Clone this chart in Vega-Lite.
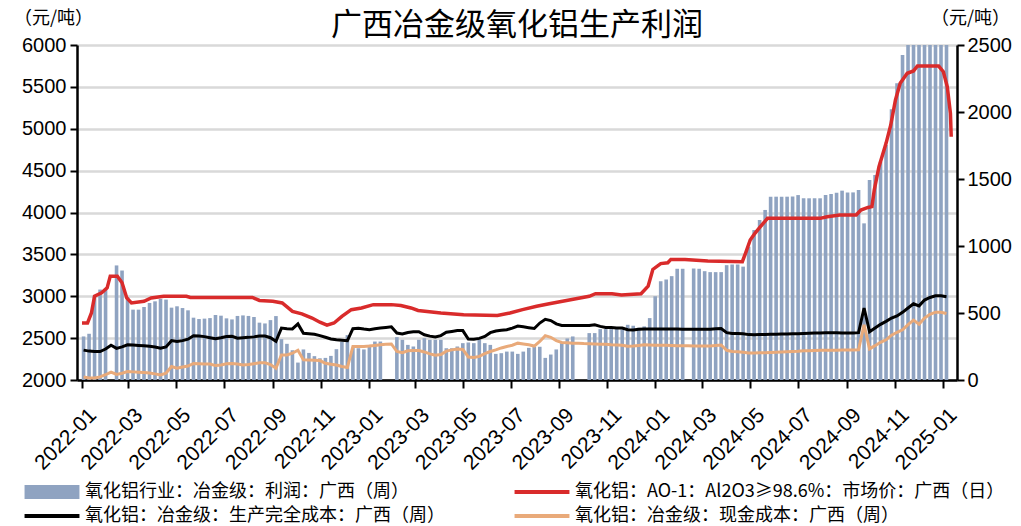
{
"$schema":"https://vega.github.io/schema/vega-lite/v6.json",
"width":880,"height":335,
"autosize":{"type":"none"},
"padding":{"left":77,"top":45,"right":64,"bottom":146},
"background":"white",
"config":{"view":{"stroke":null},"font":"Liberation Sans"},
"title":{"text":"广西冶金级氧化铝生产利润","font":"Noto Sans CJK SC","fontSize":31,"fontWeight":"normal","color":"#000","anchor":"middle","offset":-33,"frame":"group"},
"datasets":{
"profit":[
{"date":"2022-01-03","v":325},{"date":"2022-01-10","v":345},{"date":"2022-01-17","v":630},{"date":"2022-01-24","v":675},{"date":"2022-01-31","v":680},{"date":"2022-02-14","v":855},{"date":"2022-02-21","v":817},{"date":"2022-02-28","v":620},{"date":"2022-03-07","v":525},{"date":"2022-03-14","v":525},{"date":"2022-03-21","v":545},{"date":"2022-03-28","v":575},{"date":"2022-04-04","v":587},{"date":"2022-04-11","v":605},{"date":"2022-04-18","v":600},{"date":"2022-04-25","v":540},{"date":"2022-05-02","v":550},{"date":"2022-05-09","v":537},{"date":"2022-05-16","v":520},{"date":"2022-05-23","v":465},{"date":"2022-05-30","v":455},{"date":"2022-06-06","v":458},{"date":"2022-06-13","v":462},{"date":"2022-06-20","v":485},{"date":"2022-06-27","v":480},{"date":"2022-07-04","v":460},{"date":"2022-07-11","v":452},{"date":"2022-07-18","v":478},{"date":"2022-07-25","v":482},{"date":"2022-08-01","v":478},{"date":"2022-08-08","v":470},{"date":"2022-08-15","v":428},{"date":"2022-08-22","v":422},{"date":"2022-08-29","v":447},{"date":"2022-09-05","v":477},{"date":"2022-09-12","v":305},{"date":"2022-09-19","v":270},{"date":"2022-09-26","v":222},{"date":"2022-10-03","v":130},{"date":"2022-10-10","v":228},{"date":"2022-10-17","v":202},{"date":"2022-10-24","v":178},{"date":"2022-10-31","v":162},{"date":"2022-11-07","v":165},{"date":"2022-11-14","v":180},{"date":"2022-11-21","v":230},{"date":"2022-11-28","v":285},{"date":"2022-12-05","v":335},{"date":"2022-12-12","v":240},{"date":"2022-12-19","v":237},{"date":"2022-12-26","v":228},{"date":"2023-01-02","v":262},{"date":"2023-01-09","v":287},{"date":"2023-01-16","v":287},{"date":"2023-02-06","v":320},{"date":"2023-02-13","v":300},{"date":"2023-02-20","v":262},{"date":"2023-02-27","v":250},{"date":"2023-03-06","v":300},{"date":"2023-03-13","v":312},{"date":"2023-03-20","v":300},{"date":"2023-03-27","v":300},{"date":"2023-04-03","v":300},{"date":"2023-04-10","v":237},{"date":"2023-04-17","v":237},{"date":"2023-04-24","v":250},{"date":"2023-05-01","v":275},{"date":"2023-05-08","v":280},{"date":"2023-05-15","v":275},{"date":"2023-05-22","v":300},{"date":"2023-05-29","v":275},{"date":"2023-06-05","v":262},{"date":"2023-06-12","v":195},{"date":"2023-06-19","v":200},{"date":"2023-06-26","v":212},{"date":"2023-07-03","v":212},{"date":"2023-07-10","v":195},{"date":"2023-07-17","v":212},{"date":"2023-07-24","v":240},{"date":"2023-07-31","v":248},{"date":"2023-08-07","v":248},{"date":"2023-08-14","v":165},{"date":"2023-08-21","v":190},{"date":"2023-08-28","v":228},{"date":"2023-09-04","v":275},{"date":"2023-09-11","v":310},{"date":"2023-09-18","v":325},{"date":"2023-10-09","v":350},{"date":"2023-10-16","v":350},{"date":"2023-10-23","v":380},{"date":"2023-10-30","v":380},{"date":"2023-11-06","v":380},{"date":"2023-11-13","v":380},{"date":"2023-11-20","v":378},{"date":"2023-11-27","v":412},{"date":"2023-12-04","v":405},{"date":"2023-12-11","v":390},{"date":"2023-12-18","v":400},{"date":"2023-12-25","v":462},{"date":"2024-01-01","v":625},{"date":"2024-01-08","v":737},{"date":"2024-01-15","v":750},{"date":"2024-01-22","v":775},{"date":"2024-01-29","v":830},{"date":"2024-02-05","v":830},{"date":"2024-02-19","v":832},{"date":"2024-02-26","v":830},{"date":"2024-03-04","v":812},{"date":"2024-03-11","v":805},{"date":"2024-03-18","v":805},{"date":"2024-03-25","v":805},{"date":"2024-04-01","v":857},{"date":"2024-04-08","v":862},{"date":"2024-04-15","v":862},{"date":"2024-04-22","v":846},{"date":"2024-04-29","v":995},{"date":"2024-05-06","v":1119},{"date":"2024-05-13","v":1194},{"date":"2024-05-20","v":1269},{"date":"2024-05-27","v":1368},{"date":"2024-06-03","v":1368},{"date":"2024-06-10","v":1368},{"date":"2024-06-17","v":1368},{"date":"2024-06-24","v":1370},{"date":"2024-07-01","v":1380},{"date":"2024-07-08","v":1356},{"date":"2024-07-15","v":1356},{"date":"2024-07-22","v":1356},{"date":"2024-07-29","v":1356},{"date":"2024-08-05","v":1380},{"date":"2024-08-12","v":1388},{"date":"2024-08-19","v":1398},{"date":"2024-08-26","v":1413},{"date":"2024-09-02","v":1400},{"date":"2024-09-09","v":1400},{"date":"2024-09-16","v":1418},{"date":"2024-09-23","v":1169},{"date":"2024-09-30","v":1493},{"date":"2024-10-07","v":1530},{"date":"2024-10-14","v":1629},{"date":"2024-10-21","v":1754},{"date":"2024-10-28","v":2020},{"date":"2024-11-04","v":2214},{"date":"2024-11-11","v":2425},{"date":"2024-11-18","v":2650},{"date":"2024-11-25","v":2750},{"date":"2024-12-02","v":2800},{"date":"2024-12-09","v":2850},{"date":"2024-12-16","v":2850},{"date":"2024-12-23","v":2800},{"date":"2024-12-30","v":2750},{"date":"2025-01-06","v":2650}
],
"full":[
{"date":"2022-01-03","v":2357},{"date":"2022-01-10","v":2345},{"date":"2022-01-17","v":2340},{"date":"2022-01-24","v":2340},{"date":"2022-01-31","v":2370},{"date":"2022-02-07","v":2415},{"date":"2022-02-14","v":2378},{"date":"2022-02-21","v":2395},{"date":"2022-02-28","v":2420},{"date":"2022-03-07","v":2417},{"date":"2022-03-14","v":2413},{"date":"2022-03-21","v":2410},{"date":"2022-03-28","v":2402},{"date":"2022-04-04","v":2393},{"date":"2022-04-11","v":2380},{"date":"2022-04-18","v":2395},{"date":"2022-04-25","v":2470},{"date":"2022-05-02","v":2460},{"date":"2022-05-09","v":2470},{"date":"2022-05-16","v":2487},{"date":"2022-05-23","v":2528},{"date":"2022-05-30","v":2525},{"date":"2022-06-06","v":2518},{"date":"2022-06-13","v":2505},{"date":"2022-06-20","v":2492},{"date":"2022-06-27","v":2505},{"date":"2022-07-04","v":2520},{"date":"2022-07-11","v":2522},{"date":"2022-07-18","v":2500},{"date":"2022-07-25","v":2505},{"date":"2022-08-01","v":2509},{"date":"2022-08-08","v":2515},{"date":"2022-08-15","v":2525},{"date":"2022-08-22","v":2525},{"date":"2022-08-29","v":2505},{"date":"2022-09-05","v":2462},{"date":"2022-09-12","v":2620},{"date":"2022-09-19","v":2613},{"date":"2022-09-26","v":2610},{"date":"2022-10-03","v":2670},{"date":"2022-10-10","v":2558},{"date":"2022-10-17","v":2553},{"date":"2022-10-24","v":2546},{"date":"2022-10-31","v":2530},{"date":"2022-11-07","v":2510},{"date":"2022-11-14","v":2490},{"date":"2022-11-21","v":2480},{"date":"2022-11-28","v":2475},{"date":"2022-12-05","v":2470},{"date":"2022-12-12","v":2612},{"date":"2022-12-19","v":2619},{"date":"2022-12-26","v":2609},{"date":"2023-01-02","v":2601},{"date":"2023-01-09","v":2613},{"date":"2023-01-16","v":2622},{"date":"2023-01-23","v":2628},{"date":"2023-01-30","v":2635},{"date":"2023-02-06","v":2560},{"date":"2023-02-13","v":2550},{"date":"2023-02-20","v":2568},{"date":"2023-02-27","v":2575},{"date":"2023-03-06","v":2576},{"date":"2023-03-13","v":2540},{"date":"2023-03-20","v":2524},{"date":"2023-03-27","v":2513},{"date":"2023-04-03","v":2530},{"date":"2023-04-10","v":2570},{"date":"2023-04-17","v":2580},{"date":"2023-04-24","v":2590},{"date":"2023-05-01","v":2590},{"date":"2023-05-08","v":2490},{"date":"2023-05-15","v":2487},{"date":"2023-05-22","v":2497},{"date":"2023-05-29","v":2520},{"date":"2023-06-05","v":2565},{"date":"2023-06-12","v":2585},{"date":"2023-06-19","v":2594},{"date":"2023-06-26","v":2600},{"date":"2023-07-03","v":2620},{"date":"2023-07-10","v":2645},{"date":"2023-07-17","v":2635},{"date":"2023-07-24","v":2625},{"date":"2023-07-31","v":2615},{"date":"2023-08-07","v":2680},{"date":"2023-08-14","v":2725},{"date":"2023-08-21","v":2710},{"date":"2023-08-28","v":2670},{"date":"2023-09-04","v":2652},{"date":"2023-09-11","v":2650},{"date":"2023-09-18","v":2650},{"date":"2023-09-25","v":2650},{"date":"2023-10-02","v":2650},{"date":"2023-10-09","v":2650},{"date":"2023-10-16","v":2660},{"date":"2023-10-23","v":2640},{"date":"2023-10-30","v":2628},{"date":"2023-11-06","v":2626},{"date":"2023-11-13","v":2622},{"date":"2023-11-20","v":2620},{"date":"2023-11-27","v":2600},{"date":"2023-12-04","v":2598},{"date":"2023-12-11","v":2605},{"date":"2023-12-18","v":2610},{"date":"2023-12-25","v":2610},{"date":"2024-01-01","v":2610},{"date":"2024-01-08","v":2609},{"date":"2024-01-15","v":2609},{"date":"2024-01-22","v":2608},{"date":"2024-01-29","v":2608},{"date":"2024-02-05","v":2607},{"date":"2024-02-12","v":2606},{"date":"2024-02-19","v":2606},{"date":"2024-02-26","v":2605},{"date":"2024-03-04","v":2605},{"date":"2024-03-11","v":2607},{"date":"2024-03-18","v":2611},{"date":"2024-03-25","v":2615},{"date":"2024-04-01","v":2565},{"date":"2024-04-08","v":2556},{"date":"2024-04-15","v":2555},{"date":"2024-04-22","v":2553},{"date":"2024-04-29","v":2542},{"date":"2024-05-06","v":2541},{"date":"2024-05-13","v":2542},{"date":"2024-05-20","v":2544},{"date":"2024-05-27","v":2545},{"date":"2024-06-03","v":2546},{"date":"2024-06-10","v":2548},{"date":"2024-06-17","v":2550},{"date":"2024-06-24","v":2551},{"date":"2024-07-01","v":2553},{"date":"2024-07-08","v":2555},{"date":"2024-07-15","v":2557},{"date":"2024-07-22","v":2560},{"date":"2024-07-29","v":2562},{"date":"2024-08-05","v":2565},{"date":"2024-08-12","v":2565},{"date":"2024-08-19","v":2565},{"date":"2024-08-26","v":2562},{"date":"2024-09-02","v":2561},{"date":"2024-09-09","v":2560},{"date":"2024-09-16","v":2565},{"date":"2024-09-23","v":2860},{"date":"2024-09-30","v":2575},{"date":"2024-10-07","v":2620},{"date":"2024-10-14","v":2665},{"date":"2024-10-21","v":2700},{"date":"2024-10-28","v":2740},{"date":"2024-11-04","v":2765},{"date":"2024-11-11","v":2808},{"date":"2024-11-18","v":2860},{"date":"2024-11-25","v":2910},{"date":"2024-12-02","v":2885},{"date":"2024-12-09","v":2955},{"date":"2024-12-16","v":2985},{"date":"2024-12-23","v":3005},{"date":"2024-12-30","v":3005},{"date":"2025-01-06","v":2995}
],
"cash":[
{"date":"2022-01-03","v":2037},{"date":"2022-01-10","v":2025},{"date":"2022-01-17","v":2025},{"date":"2022-01-24","v":2037},{"date":"2022-01-31","v":2063},{"date":"2022-02-07","v":2095},{"date":"2022-02-14","v":2067},{"date":"2022-02-21","v":2080},{"date":"2022-02-28","v":2100},{"date":"2022-03-07","v":2097},{"date":"2022-03-14","v":2093},{"date":"2022-03-21","v":2090},{"date":"2022-03-28","v":2083},{"date":"2022-04-04","v":2073},{"date":"2022-04-11","v":2060},{"date":"2022-04-18","v":2080},{"date":"2022-04-25","v":2160},{"date":"2022-05-02","v":2140},{"date":"2022-05-09","v":2155},{"date":"2022-05-16","v":2167},{"date":"2022-05-23","v":2198},{"date":"2022-05-30","v":2195},{"date":"2022-06-06","v":2192},{"date":"2022-06-13","v":2190},{"date":"2022-06-20","v":2172},{"date":"2022-06-27","v":2180},{"date":"2022-07-04","v":2193},{"date":"2022-07-11","v":2198},{"date":"2022-07-18","v":2190},{"date":"2022-07-25","v":2180},{"date":"2022-08-01","v":2185},{"date":"2022-08-08","v":2195},{"date":"2022-08-15","v":2205},{"date":"2022-08-22","v":2205},{"date":"2022-08-29","v":2185},{"date":"2022-09-05","v":2140},{"date":"2022-09-12","v":2300},{"date":"2022-09-19","v":2300},{"date":"2022-09-26","v":2320},{"date":"2022-10-03","v":2355},{"date":"2022-10-10","v":2240},{"date":"2022-10-17","v":2238},{"date":"2022-10-24","v":2237},{"date":"2022-10-31","v":2232},{"date":"2022-11-07","v":2200},{"date":"2022-11-14","v":2189},{"date":"2022-11-21","v":2178},{"date":"2022-11-28","v":2162},{"date":"2022-12-05","v":2150},{"date":"2022-12-12","v":2400},{"date":"2022-12-19","v":2400},{"date":"2022-12-26","v":2400},{"date":"2023-01-02","v":2405},{"date":"2023-01-09","v":2413},{"date":"2023-01-16","v":2421},{"date":"2023-01-23","v":2426},{"date":"2023-01-30","v":2430},{"date":"2023-02-06","v":2340},{"date":"2023-02-13","v":2325},{"date":"2023-02-20","v":2348},{"date":"2023-02-27","v":2352},{"date":"2023-03-06","v":2352},{"date":"2023-03-13","v":2335},{"date":"2023-03-20","v":2312},{"date":"2023-03-27","v":2295},{"date":"2023-04-03","v":2305},{"date":"2023-04-10","v":2345},{"date":"2023-04-17","v":2360},{"date":"2023-04-24","v":2370},{"date":"2023-05-01","v":2365},{"date":"2023-05-08","v":2275},{"date":"2023-05-15","v":2270},{"date":"2023-05-22","v":2282},{"date":"2023-05-29","v":2315},{"date":"2023-06-05","v":2340},{"date":"2023-06-12","v":2360},{"date":"2023-06-19","v":2383},{"date":"2023-06-26","v":2400},{"date":"2023-07-03","v":2415},{"date":"2023-07-10","v":2440},{"date":"2023-07-17","v":2430},{"date":"2023-07-24","v":2420},{"date":"2023-07-31","v":2405},{"date":"2023-08-07","v":2460},{"date":"2023-08-14","v":2530},{"date":"2023-08-21","v":2510},{"date":"2023-08-28","v":2470},{"date":"2023-09-04","v":2448},{"date":"2023-09-11","v":2445},{"date":"2023-09-18","v":2440},{"date":"2023-09-25","v":2440},{"date":"2023-10-02","v":2435},{"date":"2023-10-09","v":2432},{"date":"2023-10-16","v":2430},{"date":"2023-10-23","v":2428},{"date":"2023-10-30","v":2426},{"date":"2023-11-06","v":2420},{"date":"2023-11-13","v":2418},{"date":"2023-11-20","v":2415},{"date":"2023-11-27","v":2402},{"date":"2023-12-04","v":2405},{"date":"2023-12-11","v":2413},{"date":"2023-12-18","v":2420},{"date":"2023-12-25","v":2418},{"date":"2024-01-01","v":2416},{"date":"2024-01-08","v":2415},{"date":"2024-01-15","v":2414},{"date":"2024-01-22","v":2412},{"date":"2024-01-29","v":2410},{"date":"2024-02-05","v":2410},{"date":"2024-02-12","v":2408},{"date":"2024-02-19","v":2407},{"date":"2024-02-26","v":2406},{"date":"2024-03-04","v":2405},{"date":"2024-03-11","v":2407},{"date":"2024-03-18","v":2412},{"date":"2024-03-25","v":2418},{"date":"2024-04-01","v":2355},{"date":"2024-04-08","v":2340},{"date":"2024-04-15","v":2337},{"date":"2024-04-22","v":2330},{"date":"2024-04-29","v":2322},{"date":"2024-05-06","v":2322},{"date":"2024-05-13","v":2324},{"date":"2024-05-20","v":2326},{"date":"2024-05-27","v":2329},{"date":"2024-06-03","v":2331},{"date":"2024-06-10","v":2334},{"date":"2024-06-17","v":2337},{"date":"2024-06-24","v":2340},{"date":"2024-07-01","v":2343},{"date":"2024-07-08","v":2348},{"date":"2024-07-15","v":2350},{"date":"2024-07-22","v":2352},{"date":"2024-07-29","v":2354},{"date":"2024-08-05","v":2355},{"date":"2024-08-12","v":2355},{"date":"2024-08-19","v":2356},{"date":"2024-08-26","v":2357},{"date":"2024-09-02","v":2357},{"date":"2024-09-09","v":2357},{"date":"2024-09-16","v":2360},{"date":"2024-09-23","v":2660},{"date":"2024-09-30","v":2372},{"date":"2024-10-07","v":2410},{"date":"2024-10-14","v":2450},{"date":"2024-10-21","v":2480},{"date":"2024-10-28","v":2535},{"date":"2024-11-04","v":2570},{"date":"2024-11-11","v":2600},{"date":"2024-11-18","v":2660},{"date":"2024-11-25","v":2715},{"date":"2024-12-02","v":2665},{"date":"2024-12-09","v":2740},{"date":"2024-12-16","v":2785},{"date":"2024-12-23","v":2810},{"date":"2024-12-30","v":2810},{"date":"2025-01-06","v":2795}
],
"price":[
{"date":"2022-01-01","v":2680},{"date":"2022-01-08","v":2680},{"date":"2022-01-13","v":2800},{"date":"2022-01-17","v":3000},{"date":"2022-01-26","v":3040},{"date":"2022-02-02","v":3100},{"date":"2022-02-06","v":3240},{"date":"2022-02-15","v":3240},{"date":"2022-02-21","v":3160},{"date":"2022-02-27","v":2980},{"date":"2022-03-05","v":2920},{"date":"2022-03-21","v":2940},{"date":"2022-03-30","v":2980},{"date":"2022-04-15","v":3000},{"date":"2022-05-14","v":3000},{"date":"2022-05-19","v":2985},{"date":"2022-08-06","v":2985},{"date":"2022-08-15","v":2950},{"date":"2022-09-01","v":2940},{"date":"2022-09-13","v":2920},{"date":"2022-09-26","v":2820},{"date":"2022-10-08","v":2790},{"date":"2022-10-21","v":2740},{"date":"2022-10-31","v":2690},{"date":"2022-11-09","v":2655},{"date":"2022-11-18","v":2680},{"date":"2022-11-28","v":2760},{"date":"2022-12-10","v":2840},{"date":"2022-12-23","v":2860},{"date":"2023-01-07","v":2900},{"date":"2023-01-30","v":2900},{"date":"2023-02-11","v":2890},{"date":"2023-02-24","v":2860},{"date":"2023-03-05","v":2830},{"date":"2023-04-03","v":2800},{"date":"2023-05-02","v":2780},{"date":"2023-06-14","v":2770},{"date":"2023-06-30","v":2800},{"date":"2023-07-16","v":2840},{"date":"2023-08-03","v":2880},{"date":"2023-08-19","v":2910},{"date":"2023-09-05","v":2940},{"date":"2023-09-22","v":2970},{"date":"2023-10-09","v":3000},{"date":"2023-10-17","v":3030},{"date":"2023-11-07","v":3030},{"date":"2023-11-19","v":3015},{"date":"2023-12-14","v":3030},{"date":"2023-12-23","v":3120},{"date":"2023-12-29","v":3320},{"date":"2024-01-08","v":3390},{"date":"2024-01-17","v":3400},{"date":"2024-01-21","v":3440},{"date":"2024-02-08","v":3440},{"date":"2024-03-08","v":3420},{"date":"2024-04-21","v":3413},{"date":"2024-04-25","v":3513},{"date":"2024-05-01","v":3672},{"date":"2024-05-07","v":3751},{"date":"2024-05-14","v":3830},{"date":"2024-05-23","v":3930},{"date":"2024-07-29","v":3930},{"date":"2024-08-07","v":3950},{"date":"2024-08-23","v":3970},{"date":"2024-09-13","v":3970},{"date":"2024-09-19","v":4030},{"date":"2024-09-28","v":4060},{"date":"2024-10-03","v":4070},{"date":"2024-10-06","v":4269},{"date":"2024-10-12","v":4547},{"date":"2024-10-21","v":4826},{"date":"2024-10-27","v":5045},{"date":"2024-11-02","v":5343},{"date":"2024-11-08","v":5542},{"date":"2024-11-17","v":5662},{"date":"2024-11-25","v":5690},{"date":"2024-11-30","v":5749},{"date":"2024-12-27","v":5749},{"date":"2025-01-02","v":5681},{"date":"2025-01-07","v":5502},{"date":"2025-01-11","v":5184},{"date":"2025-01-12","v":4905}
]
},
"encoding":{
"x":{"field":"date","type":"temporal",
"scale":{"type":"utc","domain":[{"year":2022,"month":1,"date":1,"utc":true},{"year":2025,"month":1,"date":13,"utc":true}]},
"axis":{"title":null,"format":"%Y-%m","tickCount":{"interval":"month","step":2},"labelAngle":-45,"labelFontSize":21,"labelColor":"#000","labelFont":"Liberation Sans","domainColor":"#000","domainWidth":2.5,"tickColor":"#000","tickWidth":2,"tickSize":8,"labelPadding":16,"labelOffset":3,"grid":false,"labelFlush":false,"labelOverlap":false}}
},
"layer":[
{"data":{"name":"profit"},
"mark":{"type":"bar","width":3.6,"clip":true},
"encoding":{
"y":{"field":"v","type":"quantitative","scale":{"domain":[0,2500],"nice":false},
"axis":{"orient":"right","values":[0,500,1000,1500,2000,2500],"format":"d","grid":false,"title":"（元/吨）","titleAngle":0,"titleX":13,"titleY":-27,"titleAlign":"center","titleBaseline":"middle","titleFont":"Noto Sans CJK SC","titleFontSize":18,"titleFontWeight":"normal","titleColor":"#000","labelFontSize":20,"labelColor":"#000","labelFont":"Liberation Sans","domainColor":"#000","domainWidth":2.5,"tickColor":"#000","tickWidth":2,"tickSize":7,"labelPadding":3}},
"color":{"datum":"氧化铝行业：冶金级：利润：广西（周）","type":"nominal",
"scale":{"domain":["氧化铝行业：冶金级：利润：广西（周）","氧化铝：AO-1：Al2O3≥98.6%：市场价：广西（日）","氧化铝：冶金级：生产完全成本：广西（周）","氧化铝：冶金级：现金成本：广西（周）"],"range":["#8FA3C1","#D92B2B","#000000","#E9AA7A"]},
"legend":{"title":null,"orient":"none","direction":"horizontal","legendX":-34,"legendY":438,"columns":2,"columnPadding":69,"rowPadding":6,"padding":0,"symbolSize":324,"labelFont":"Noto Sans CJK SC","labelFontSize":18,"labelColor":"#000","labelOffset":24,"labelLimit":600,
"encode":{"symbols":{"update":{"shape":{"signal":"datum.value === '氧化铝行业：冶金级：利润：广西（周）' ? 'M-3.05,-0.78H3.05V0.78H-3.05Z' : 'M-3.05,-0.22H3.05V0.22H-3.05Z'"},"fill":{"signal":"scale('color', datum.value)"},"stroke":{"value":"transparent"},"strokeWidth":{"value":0},"opacity":{"value":1}}}}}}
}},
{"encoding":{"y":{"field":"v","type":"quantitative","scale":{"domain":[2000,6000],"nice":false,"zero":false},
"axis":{"orient":"left","values":[2000,2500,3000,3500,4000,4500,5000,5500,6000],"format":"d","grid":true,"gridColor":"#d9d9d9","gridWidth":2.5,"title":"（元/吨）","titleAngle":0,"titleX":-24,"titleY":-27,"titleAlign":"center","titleBaseline":"middle","titleFont":"Noto Sans CJK SC","titleFontSize":18,"titleFontWeight":"normal","titleColor":"#000","labelFontSize":20,"labelColor":"#000","labelFont":"Liberation Sans","domainColor":"#000","domainWidth":2.5,"tickColor":"#000","tickWidth":2,"tickSize":7,"labelPadding":4}}},
"layer":[
{"data":{"name":"cash"},"mark":{"type":"line","strokeWidth":3},"encoding":{"color":{"datum":"氧化铝：冶金级：现金成本：广西（周）","type":"nominal"}}},
{"data":{"name":"full"},"mark":{"type":"line","strokeWidth":3},"encoding":{"color":{"datum":"氧化铝：冶金级：生产完全成本：广西（周）","type":"nominal"}}},
{"data":{"name":"price"},"mark":{"type":"line","strokeWidth":3.5},"encoding":{"color":{"datum":"氧化铝：AO-1：Al2O3≥98.6%：市场价：广西（日）","type":"nominal"}}}
]}
],
"resolve":{"scale":{"y":"independent"}}
}
